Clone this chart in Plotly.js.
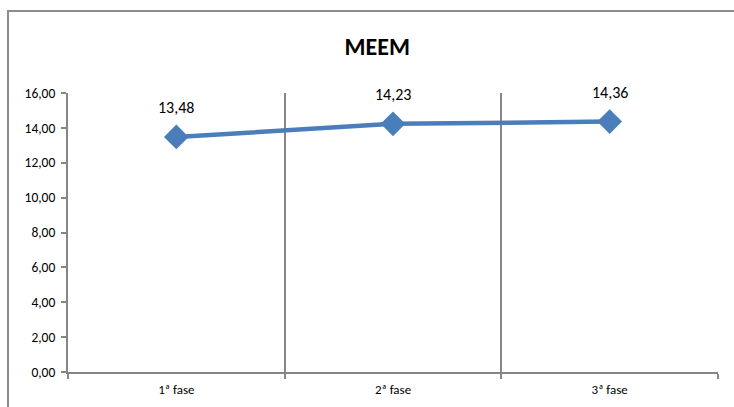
<!DOCTYPE html>
<html>
<head>
<meta charset="utf-8">
<script src="https://cdn.plot.ly/plotly-3.0.1.min.js"></script>
<style>
html,body{margin:0;padding:0;background:#fff;overflow:hidden;}
#frame{position:absolute;left:7px;top:10px;width:900px;height:600px;border-left:2px solid #8c8c8c;border-top:2px solid #8c8c8c;box-sizing:border-box;}
#chart{position:absolute;left:0;top:0;width:734px;height:407px;}
</style>
</head>
<body>
<div id="frame"></div>
<div id="chart"></div>
<script>
var categories = ["1ª fase", "2ª fase", "3ª fase"];
var values = [13.48, 14.23, 14.36];
var labels = ["13,48", "14,23", "14,36"];
var yTickVals = [0, 2, 4, 6, 8, 10, 12, 14, 16];

var FONT = 'Carlito, Calibri, "Liberation Sans Narrow", "Liberation Sans", sans-serif';
var GRAY = '#868686';

var trace = {
  x: categories,
  y: values,
  type: 'scatter',
  mode: 'lines+markers',
  line: {color: '#4a7ebb', width: 4.5},
  marker: {symbol: 'diamond', size: 19, color: '#4a7ebb'},
  hoverinfo: 'none',
  cliponaxis: false
};

var annotations = categories.map(function (c, i) {
  return {
    x: c, y: values[i], xref: 'x', yref: 'y',
    text: labels[i], showarrow: false, yshift: 29,
    font: {family: FONT, size: 16, color: '#000'}
  };
});

var layout = {
  width: 734, height: 407,
  margin: {l: 68, r: 16, t: 93, b: 35},
  paper_bgcolor: 'rgba(0,0,0,0)',
  plot_bgcolor: 'rgba(0,0,0,0)',
  showlegend: false,
  separators: ',.',
  title: {
    text: '<b>MEEM</b>',
    font: {family: FONT, size: 24, color: '#000'},
    xref: 'container', x: 0.514, xanchor: 'center',
    yref: 'container', y: 0.885, yanchor: 'middle'
  },
  xaxis: {
    type: 'category',
    range: [-0.5, 2.5],
    tickson: 'boundaries',
    showgrid: true, gridcolor: GRAY, gridwidth: 2,
    showline: true, linecolor: GRAY, linewidth: 2,
    ticks: 'outside', ticklen: 5, tickcolor: GRAY, tickwidth: 2,
    ticklabelstandoff: 4,
    tickfont: {family: FONT, size: 13, color: '#000'},
    zeroline: false, fixedrange: true
  },
  yaxis: {
    range: [0, 16],
    tickvals: yTickVals,
    tickformat: '.2f',
    showgrid: false,
    showline: true, linecolor: GRAY, linewidth: 2,
    ticks: 'outside', ticklen: 5, tickcolor: GRAY, tickwidth: 2,
    ticklabelstandoff: 3,
    tickfont: {family: FONT, size: 13.5, color: '#000'},
    zeroline: false, fixedrange: true
  },
  annotations: annotations
};

Plotly.newPlot('chart', [trace], layout, {displayModeBar: false, staticPlot: true});
</script>
</body>
</html>
